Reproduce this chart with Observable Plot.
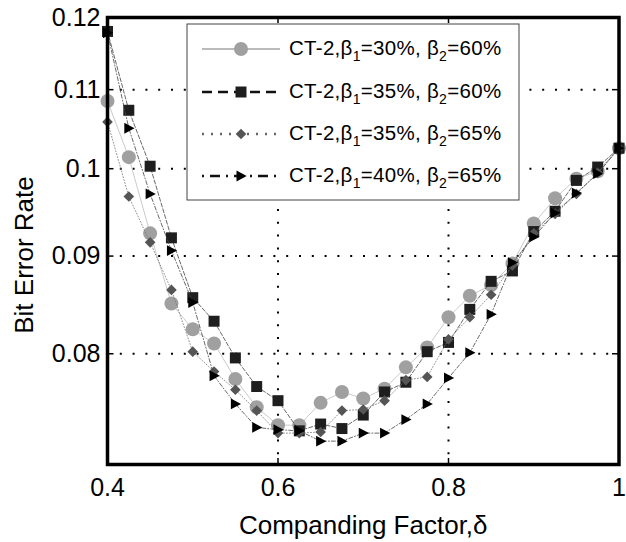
<!DOCTYPE html>
<html><head><meta charset="utf-8">
<script src="https://cdn.jsdelivr.net/npm/d3@7"></script>
<script src="https://cdn.jsdelivr.net/npm/@observablehq/plot@0.6"></script>
<style>
body{margin:0;background:#fff}
#chart{width:626px;height:542px}
</style>
</head><body><div id="chart"></div>
<script>
// ---- data ----
const xValues = [0.4,0.425,0.45,0.475,0.5,0.525,0.55,0.575,0.6,0.625,0.65,0.675,0.7,0.725,0.75,0.775,0.8,0.825,0.85,0.875,0.9,0.925,0.95,0.975,1.0];
const ber_b30_60 = [0.1085,0.1014,0.0925,0.0850,0.0824,0.0810,0.0776,0.0750,0.0734,0.0734,0.0754,0.0764,0.0758,0.0767,0.0787,0.0806,0.0836,0.0858,0.0869,0.0892,0.0936,0.0965,0.0988,0.0997,0.1025];
const ber_b35_60 = [0.1180,0.1073,0.1003,0.0920,0.0856,0.0832,0.0796,0.0769,0.0756,0.0729,0.0735,0.0731,0.0743,0.0764,0.0773,0.0802,0.0811,0.0844,0.0873,0.0884,0.0927,0.0950,0.0986,0.1002,0.1025];
const ber_b35_65 = [0.1058,0.0967,0.0915,0.0864,0.0802,0.0783,0.0766,0.0747,0.0727,0.0727,0.0728,0.0747,0.0748,0.0756,0.0775,0.0778,0.0814,0.0836,0.0859,0.0890,0.0925,0.0947,0.0970,0.0995,0.1025];
const ber_b40_65 = [0.1178,0.1050,0.0970,0.0906,0.0851,0.0779,0.0753,0.0732,0.0730,0.0729,0.0720,0.0720,0.0727,0.0727,0.0739,0.0753,0.0777,0.0801,0.0839,0.0893,0.0921,0.0948,0.0971,0.0994,0.1025];
const beta1 = ["30%","35%","35%","40%"];
const beta2 = ["60%","60%","65%","65%"];
const xTicks = [0.4,0.6,0.8,1];
const yTicks = [0.08,0.09,0.1,0.11,0.12];
const xGrid = [0.6,0.8];
const yGrid = [0.08,0.09,0.1,0.11];
const xLabel = "Companding Factor,δ";
const yLabel = "Bit Error Rate";

// ---- styles ----
const font = "'Liberation Sans', Arial, Helvetica, sans-serif";
const triangleRight = {draw(ctx, size){ const r = Math.sqrt(size/Math.PI); ctx.moveTo(r*0.95,0); ctx.lineTo(-r*0.75,-r*0.9); ctx.lineTo(-r*0.75,r*0.9); ctx.closePath(); }};
const styles = [
  {symbol:"circle", r:7, fill:"#a0a0a0", stroke:"#bcbcbc", dash:null, lw:2},
  {symbol:"square", r:6.2, fill:"#1e1e1e", stroke:"#444", dash:"4,2", lw:2.5, ldash:"10,6"},
  {symbol:"diamond2", r:4.8, fill:"#555", stroke:"#777", dash:"1,2", lw:2.5, ldash:"2,7"},
  {symbol:triangleRight, r:6, fill:"#000", stroke:"#444", dash:"4,2,1,2", lw:2.5, ldash:"2,6,10,6"}
];
const seriesValues = [ber_b30_60, ber_b35_60, ber_b35_65, ber_b40_65];
const rows = seriesValues.map((vals,i)=> xValues.map((x,j)=>({x, y:vals[j], s:i})));

const marks = [
  Plot.ruleX(xGrid, {stroke:"#000", strokeWidth:2, strokeDasharray:"2,10.8"}),
  Plot.ruleY(yGrid, {stroke:"#000", strokeWidth:2, strokeDasharray:"2,10.8"}),
  Plot.ruleX(xTicks, {stroke:"#000", strokeWidth:1.5, insetTop:441}),
  Plot.ruleX(xTicks, {stroke:"#000", strokeWidth:1.5, insetBottom:441}),
  Plot.ruleY(yTicks, {stroke:"#000", strokeWidth:1.5, insetRight:505}),
  Plot.ruleY(yTicks, {stroke:"#000", strokeWidth:1.5, insetLeft:505})
];
rows.forEach((data,i)=>{
  const st = styles[i];
  marks.push(Plot.line(data, {x:"x", y:"y", stroke:st.stroke, strokeWidth:0.8, strokeDasharray:st.dash}));
  marks.push(Plot.dot(data, {x:"x", y:"y", symbol:st.symbol, r:st.r, fill:st.fill, stroke:"none"}));
});
marks.push(
  Plot.frame({stroke:"#000", strokeWidth:3.5}),
  Plot.axisX(xTicks, {tickSize:0, tickPadding:14, fontSize:25, tickFormat:d=>String(d), label:null}),
  Plot.axisY(yTicks, {tickSize:0, tickPadding:7, fontSize:25, tickFormat:d=>String(d), label:null}),
  Plot.text([xLabel], {frameAnchor:"bottom", dy:61, lineAnchor:"middle", textAnchor:"middle", fontSize:26, fill:"#000"}),
  Plot.text([yLabel], {frameAnchor:"left", dx:-83, dy:14, rotate:-90, lineAnchor:"middle", textAnchor:"middle", fontSize:26, fill:"#000"})
);

const chart = Plot.plot({
  width:626, height:542,
  marginTop:17, marginBottom:78, marginLeft:107, marginRight:7.5,
  style:{fontFamily:font, background:"#fff", color:"#000"},
  x:{domain:[0.4,1]},
  y:{type:"log", domain:[0.07,0.12]},
  marks
});
document.getElementById("chart").appendChild(chart);

// ---- legend ----
const svg = d3.select(chart);
const lg = svg.append("g").attr("font-family", font).attr("text-anchor","start");
lg.append("rect").attr("x",187).attr("y",24).attr("width",332).attr("height",176)
  .attr("fill","#fff").attr("stroke","#444").attr("stroke-width",1);
const rowY = [49,92,134,176];
styles.forEach((st,i)=>{
  const y = rowY[i];
  lg.append("line").attr("x1",202).attr("x2",280).attr("y1",y).attr("y2",y)
    .attr("stroke", i===0 ? "#bbb" : (i===2 ? "#666" : "#111"))
    .attr("stroke-width", st.lw)
    .attr("stroke-dasharray", st.ldash || null);
  const sym = typeof st.symbol === "string" ? ({circle:d3.symbolCircle, square:d3.symbolSquare, diamond2:d3.symbolDiamond2})[st.symbol] : st.symbol;
  lg.append("path").attr("transform",`translate(241,${y})`)
    .attr("d", d3.symbol(sym, Math.PI*st.r*st.r)())
    .attr("fill", st.fill);
  const t = lg.append("text").attr("x",289).attr("y",y+6).attr("font-size",20.5).attr("letter-spacing",0.3).attr("fill","#000").attr("text-anchor","start");
  t.append("tspan").text("CT-2,β");
  t.append("tspan").attr("font-size",14).attr("dy",6).text("1");
  t.append("tspan").attr("dy",-6).text(`=${beta1[i]}, β`);
  t.append("tspan").attr("font-size",14).attr("dy",6).text("2");
  t.append("tspan").attr("dy",-6).text(`=${beta2[i]}`);
});
</script>
</body></html>
